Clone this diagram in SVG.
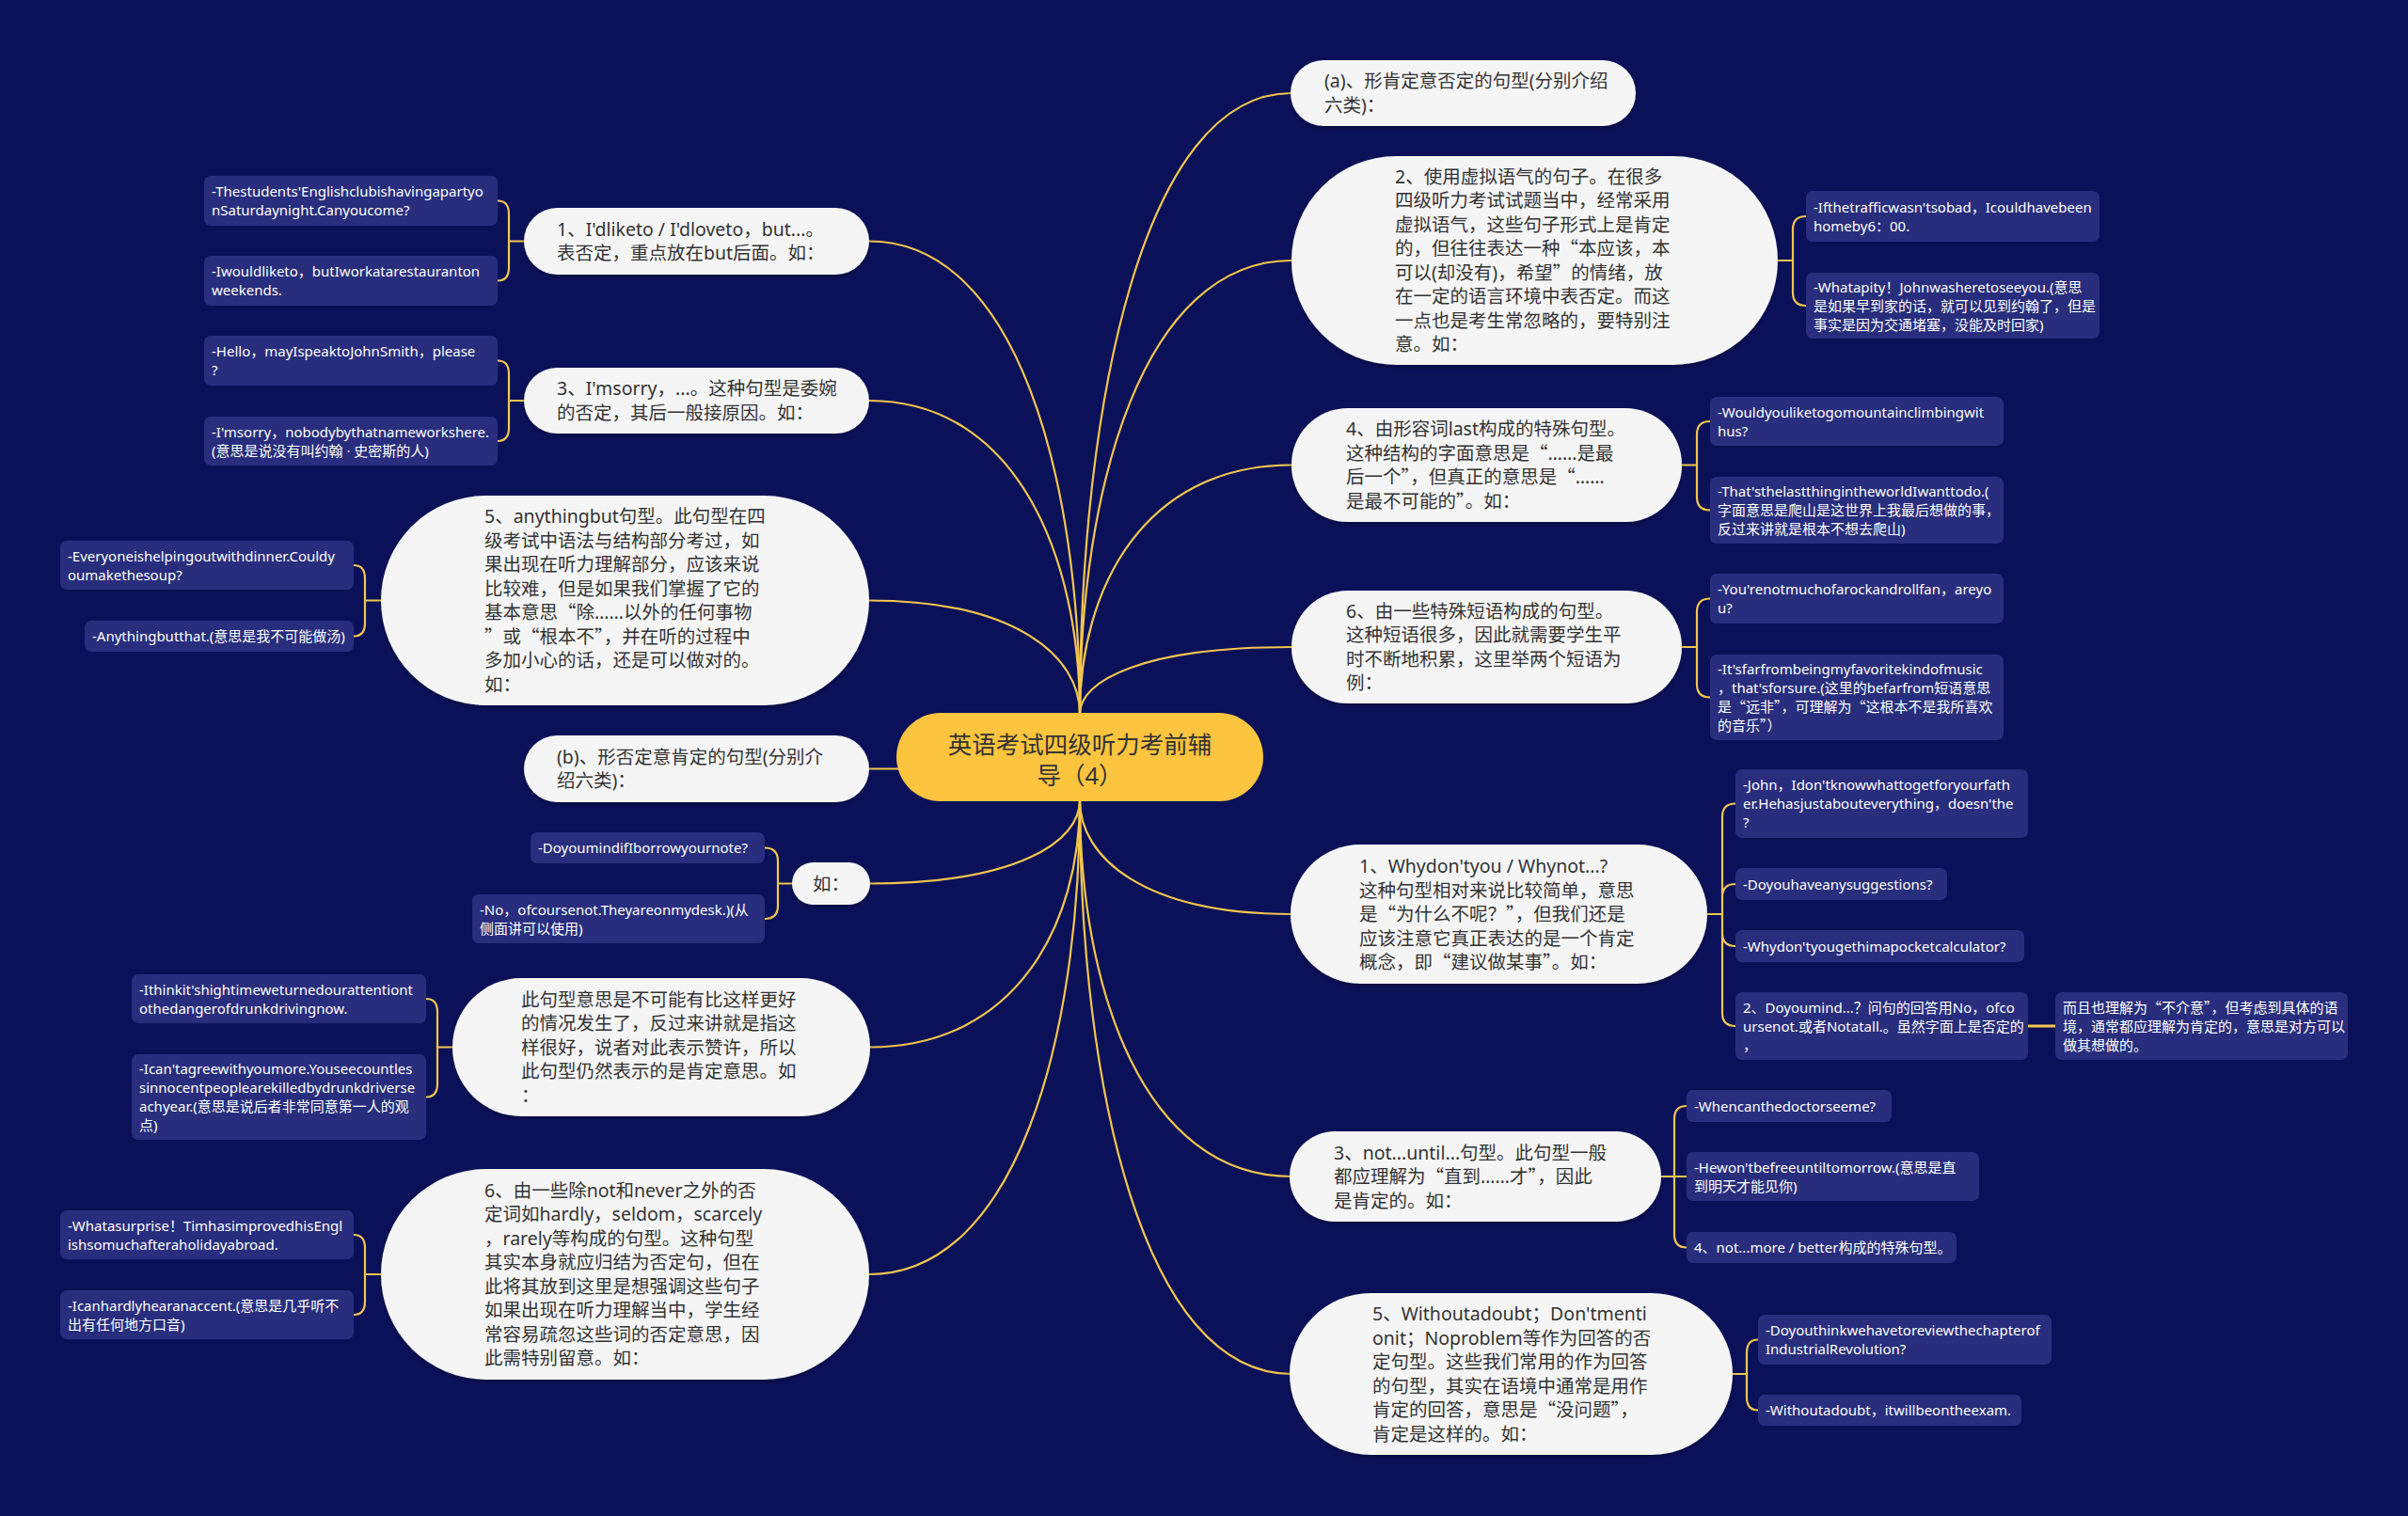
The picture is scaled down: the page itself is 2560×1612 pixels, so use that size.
<svg xmlns="http://www.w3.org/2000/svg" width="2560" height="1612" viewBox="0 0 2560 1612">
<defs>
<style>
.bg{fill:#0B1159}
.edge{fill:none;stroke:#F3C64F;stroke-width:2.2;stroke-linecap:round}
.main rect{fill:#F5F5F5}
.main text{font-family:"Noto Sans","Noto Sans CJK SC",sans-serif;font-size:19.5px;fill:#333333}
.leaf rect{fill:#282E7D}
.leaf text{font-family:"Noto Sans","Noto Sans CJK SC",sans-serif;font-size:15px;fill:#FFFFFF}
.root rect{fill:#FCC43F}
.root text{font-family:"Noto Sans","Noto Sans CJK SC",sans-serif;font-size:25.5px;fill:#333333;text-anchor:middle}
.q{font-family:"Noto Sans CJK SC",sans-serif}
</style>
<filter id="sh" x="-10%" y="-10%" width="120%" height="130%">
<feDropShadow dx="0" dy="2" stdDeviation="2" flood-color="#000000" flood-opacity="0.35"/>
</filter>
</defs>
<rect class="bg" x="0" y="0" width="2560" height="1612"/>

<g id="connectors">
<path class="edge" d="M1148,759 C1148,429 1215.5,99 1373,99"/>
<path class="edge" d="M1148,759 C1148,518 1215.5,277 1373,277"/>
<path class="edge" d="M1148,759 C1148,626.75 1215.5,494.5 1373,494.5"/>
<path class="edge" d="M1148,759 C1148,723.5 1215.5,688 1373,688"/>
<path class="edge" d="M1148,759 C1148,507.75 1080.8,256.5 924,256.5"/>
<path class="edge" d="M1148,759 C1148,592.5 1080.8,426 924,426"/>
<path class="edge" d="M1148,759 C1148,698.75 1080.8,638.5 924,638.5"/>
<path class="edge" d="M1148,851 C1148,911.5 1215.5,972 1373,972"/>
<path class="edge" d="M1148,851 C1148,1051 1215.5,1251 1373,1251"/>
<path class="edge" d="M1148,851 C1148,1156 1215.5,1461 1373,1461"/>
<path class="edge" d="M1148,851 C1148,895.25 1080.8,939.5 924,939.5"/>
<path class="edge" d="M1148,851 C1148,982.25 1080.8,1113.5 924,1113.5"/>
<path class="edge" d="M1148,851 C1148,1103 1080.8,1355 924,1355"/>
<path class="edge" d="M924,817.5 H955"/>

<path class="edge" d="M1890,277 H1906 M1906,277 V244 Q1906,230 1920,230 M1906,277 V311 Q1906,325 1920,325"/>
<path class="edge" d="M1788,494.5 H1804 M1804,494.5 V462 Q1804,448 1818,448 M1804,494.5 V528.5 Q1804,542.5 1818,542.5"/>
<path class="edge" d="M1788,688 H1804 M1804,688 V650.5 Q1804,636.5 1818,636.5 M1804,688 V727.5 Q1804,741.5 1818,741.5"/>
<path class="edge" d="M1815,972 H1831 M1831,972 V868.5 Q1831,854.5 1845,854.5 M1831,972 V954 Q1831,940 1845,940 M1831,972 V992 Q1831,1006 1845,1006 M1831,972 V1077 Q1831,1091 1845,1091"/>
<path class="edge" d="M2156,1091 H2185" style="stroke-width:3"/>
<path class="edge" d="M1766,1251 H1793 M1780,1251 V1190 Q1780,1176 1793,1176 M1780,1251 V1312.5 Q1780,1326.5 1793,1326.5"/>
<path class="edge" d="M1842,1461 H1857 M1857,1461 V1438.5 Q1857,1424.5 1869,1424.5 M1857,1461 V1485.5 Q1857,1499.5 1869,1499.5"/>

<path class="edge" d="M557,256.5 H541 M541,256.5 V227.5 Q541,213.5 529,213.5 M541,256.5 V284.5 Q541,298.5 529,298.5"/>
<path class="edge" d="M557,426 H541 M541,426 V397.5 Q541,383.5 529,383.5 M541,426 V455 Q541,469 529,469"/>
<path class="edge" d="M405,638.5 H388 M388,638.5 V615 Q388,601 376,601 M388,638.5 V662.5 Q388,676.5 376,676.5"/>
<path class="edge" d="M842,939.5 H827 M827,939.5 V915.5 Q827,901.5 813,901.5 M827,939.5 V963 Q827,977 813,977"/>
<path class="edge" d="M481,1113.5 H465 M465,1113.5 V1076 Q465,1062 453,1062 M465,1113.5 V1152.5 Q465,1166.5 453,1166.5"/>
<path class="edge" d="M405,1355 H388 M388,1355 V1327 Q388,1313 376,1313 M388,1355 V1384 Q388,1398 376,1398"/>
</g>

<g id="root" class="root">
<rect x="953" y="758" width="390" height="94" rx="47" ry="47"/>
<text><tspan x="1148" y="801">英语考试四级听力考前辅</tspan><tspan x="1148" y="834">导（4）</tspan></text>
</g>

<!-- right main nodes -->
<g id="n-a" class="main">
<rect x="1372" y="64" width="367" height="70" rx="35" ry="35" filter="url(#sh)"/>
<text><tspan x="1408" y="93.25">(a)、形肯定意否定的句型(分别介绍</tspan><tspan x="1408" y="118.75">六类)：</tspan></text>
</g>
<g id="n-r2" class="main">
<rect x="1373" y="166" width="517" height="222" rx="111" ry="111" filter="url(#sh)"/>
<text>
<tspan x="1483" y="194.75">2、使用虚拟语气的句子。在很多</tspan>
<tspan x="1483" y="220.25">四级听力考试试题当中，经常采用</tspan>
<tspan x="1483" y="245.75">虚拟语气，这些句子形式上是肯定</tspan>
<tspan x="1483" y="271.25">的，但往往表达一种<tspan class="q">“</tspan>本应该，本</tspan>
<tspan x="1483" y="296.75">可以(却没有)，希望<tspan class="q">”</tspan>的情绪，放</tspan>
<tspan x="1483" y="322.25">在一定的语言环境中表否定。而这</tspan>
<tspan x="1483" y="347.75">一点也是考生常忽略的，要特别注</tspan>
<tspan x="1483" y="373.25">意。如：</tspan>
</text>
</g>
<g id="n-r4" class="main">
<rect x="1373" y="434" width="415" height="121" rx="60" ry="60" filter="url(#sh)"/>
<text>
<tspan x="1431" y="463.25">4、由形容词last构成的特殊句型。</tspan>
<tspan x="1431" y="488.75">这种结构的字面意思是<tspan class="q">“</tspan>……是最</tspan>
<tspan x="1431" y="514.25">后一个<tspan class="q">”</tspan>，但真正的意思是<tspan class="q">“</tspan>……</tspan>
<tspan x="1431" y="539.75">是最不可能的<tspan class="q">”</tspan>。如：</tspan>
</text>
</g>
<g id="n-r6" class="main">
<rect x="1373" y="628" width="415" height="120" rx="60" ry="60" filter="url(#sh)"/>
<text>
<tspan x="1431" y="656.75">6、由一些特殊短语构成的句型。</tspan>
<tspan x="1431" y="682.25">这种短语很多，因此就需要学生平</tspan>
<tspan x="1431" y="707.75">时不断地积累，这里举两个短语为</tspan>
<tspan x="1431" y="733.25">例：</tspan>
</text>
</g>
<g id="n-r1" class="main">
<rect x="1372" y="898" width="443" height="148" rx="74" ry="74" filter="url(#sh)"/>
<text>
<tspan x="1445" y="928">1、Whydon'tyou / Whynot...?</tspan>
<tspan x="1445" y="953.5">这种句型相对来说比较简单，意思</tspan>
<tspan x="1445" y="979">是<tspan class="q">“</tspan>为什么不呢？<tspan class="q">”</tspan>，但我们还是</tspan>
<tspan x="1445" y="1004.5">应该注意它真正表达的是一个肯定</tspan>
<tspan x="1445" y="1030">概念，即<tspan class="q">“</tspan>建议做某事<tspan class="q">”</tspan>。如：</tspan>
</text>
</g>
<g id="n-r3" class="main">
<rect x="1371" y="1203" width="395" height="96" rx="48" ry="48" filter="url(#sh)"/>
<text>
<tspan x="1418" y="1232.5">3、not...until...句型。此句型一般</tspan>
<tspan x="1418" y="1258">都应理解为<tspan class="q">“</tspan>直到……才<tspan class="q">”</tspan>，因此</tspan>
<tspan x="1418" y="1283.5">是肯定的。如：</tspan>
</text>
</g>
<g id="n-r5" class="main">
<rect x="1371" y="1375" width="471" height="172" rx="86" ry="86" filter="url(#sh)"/>
<text>
<tspan x="1459" y="1404.25">5、Withoutadoubt；Don'tmenti</tspan>
<tspan x="1459" y="1429.75">onit；Noproblem等作为回答的否</tspan>
<tspan x="1459" y="1455.25">定句型。这些我们常用的作为回答</tspan>
<tspan x="1459" y="1480.75">的句型，其实在语境中通常是用作</tspan>
<tspan x="1459" y="1506.25">肯定的回答，意思是<tspan class="q">“</tspan>没问题<tspan class="q">”</tspan>，</tspan>
<tspan x="1459" y="1531.75">肯定是这样的。如：</tspan>
</text>
</g>

<!-- left main nodes -->
<g id="n-l1" class="main">
<rect x="557" y="221" width="367" height="71" rx="35.5" ry="35.5" filter="url(#sh)"/>
<text><tspan x="592" y="250.75">1、I'dliketo / I'dloveto，but...。</tspan><tspan x="592" y="276.25">表否定，重点放在but后面。如：</tspan></text>
</g>
<g id="n-l3" class="main">
<rect x="557" y="391" width="367" height="70" rx="35" ry="35" filter="url(#sh)"/>
<text><tspan x="592" y="420.25">3、I'msorry，...。这种句型是委婉</tspan><tspan x="592" y="445.75">的否定，其后一般接原因。如：</tspan></text>
</g>
<g id="n-l5" class="main">
<rect x="405" y="527" width="519" height="223" rx="111.5" ry="111.5" filter="url(#sh)"/>
<text>
<tspan x="515" y="556.25">5、anythingbut句型。此句型在四</tspan>
<tspan x="515" y="581.75">级考试中语法与结构部分考过，如</tspan>
<tspan x="515" y="607.25">果出现在听力理解部分，应该来说</tspan>
<tspan x="515" y="632.75">比较难，但是如果我们掌握了它的</tspan>
<tspan x="515" y="658.25">基本意思<tspan class="q">“</tspan>除……以外的任何事物</tspan>
<tspan x="515" y="683.75"><tspan class="q">”</tspan>或<tspan class="q">“</tspan>根本不<tspan class="q">”</tspan>，并在听的过程中</tspan>
<tspan x="515" y="709.25">多加小心的话，还是可以做对的。</tspan>
<tspan x="515" y="734.75">如：</tspan>
</text>
</g>
<g id="n-b" class="main">
<rect x="557" y="782" width="367" height="71" rx="35.5" ry="35.5" filter="url(#sh)"/>
<text><tspan x="592" y="811.75">(b)、形否定意肯定的句型(分别介</tspan><tspan x="592" y="837.25">绍六类)：</tspan></text>
</g>
<g id="n-ru" class="main">
<rect x="842" y="917" width="83" height="45" rx="22.5" ry="22.5" filter="url(#sh)"/>
<text x="883.5" y="946.5" text-anchor="middle">如：</text>
</g>
<g id="n-ci" class="main">
<rect x="481" y="1040" width="444" height="147" rx="73.5" ry="73.5" filter="url(#sh)"/>
<text>
<tspan x="554" y="1069.5">此句型意思是不可能有比这样更好</tspan>
<tspan x="554" y="1095">的情况发生了，反过来讲就是指这</tspan>
<tspan x="554" y="1120.5">样很好，说者对此表示赞许，所以</tspan>
<tspan x="554" y="1146">此句型仍然表示的是肯定意思。如</tspan>
<tspan x="554" y="1171.5">：</tspan>
</text>
</g>
<g id="n-l6" class="main">
<rect x="405" y="1243" width="519" height="224" rx="112" ry="112" filter="url(#sh)"/>
<text>
<tspan x="515" y="1272.75">6、由一些除not和never之外的否</tspan>
<tspan x="515" y="1298.25">定词如hardly，seldom，scarcely</tspan>
<tspan x="515" y="1323.75">，rarely等构成的句型。这种句型</tspan>
<tspan x="515" y="1349.25">其实本身就应归结为否定句，但在</tspan>
<tspan x="515" y="1374.75">此将其放到这里是想强调这些句子</tspan>
<tspan x="515" y="1400.25">如果出现在听力理解当中，学生经</tspan>
<tspan x="515" y="1425.75">常容易疏忽这些词的否定意思，因</tspan>
<tspan x="515" y="1451.25">此需特别留意。如：</tspan>
</text>
</g>

<!-- right leaves -->
<g id="lf-2a" class="leaf"><rect x="1920" y="203" width="312" height="54" rx="7"/><text><tspan x="1928" y="225.5">-Ifthetrafficwasn'tsobad，Icouldhavebeen</tspan><tspan x="1928" y="245.5">homeby6：00.</tspan></text></g>
<g id="lf-2b" class="leaf"><rect x="1920" y="290" width="312" height="70" rx="7"/><text><tspan x="1928" y="310.5">-Whatapity！Johnwasheretoseeyou.(意思</tspan><tspan x="1928" y="330.5">是如果早到家的话，就可以见到约翰了，但是</tspan><tspan x="1928" y="350.5">事实是因为交通堵塞，没能及时回家)</tspan></text></g>
<g id="lf-4a" class="leaf"><rect x="1818" y="422" width="312" height="52" rx="7"/><text><tspan x="1826" y="443.5">-Wouldyouliketogomountainclimbingwit</tspan><tspan x="1826" y="463.5">hus?</tspan></text></g>
<g id="lf-4b" class="leaf"><rect x="1818" y="507" width="312" height="71" rx="7"/><text><tspan x="1826" y="528">-That'sthelastthingintheworldIwanttodo.(</tspan><tspan x="1826" y="548">字面意思是爬山是这世界上我最后想做的事，</tspan><tspan x="1826" y="568">反过来讲就是根本不想去爬山)</tspan></text></g>
<g id="lf-6a" class="leaf"><rect x="1818" y="610" width="312" height="53" rx="7"/><text><tspan x="1826" y="632">-You'renotmuchofarockandrollfan，areyo</tspan><tspan x="1826" y="652">u?</tspan></text></g>
<g id="lf-6b" class="leaf"><rect x="1818" y="696" width="312" height="91" rx="7"/><text><tspan x="1826" y="717">-It'sfarfrombeingmyfavoritekindofmusic</tspan><tspan x="1826" y="737">，that'sforsure.(这里的befarfrom短语意思</tspan><tspan x="1826" y="757">是<tspan class="q">“</tspan>远非<tspan class="q">”</tspan>，可理解为<tspan class="q">“</tspan>这根本不是我所喜欢</tspan><tspan x="1826" y="777">的音乐<tspan class="q">”</tspan>）</tspan></text></g>
<g id="lf-r1a" class="leaf"><rect x="1845" y="818" width="311" height="73" rx="7"/><text><tspan x="1853" y="840">-John，Idon'tknowwhattogetforyourfath</tspan><tspan x="1853" y="860">er.Hehasjustabouteverything，doesn'the</tspan><tspan x="1853" y="880">?</tspan></text></g>
<g id="lf-r1b" class="leaf"><rect x="1845" y="923" width="225" height="34" rx="7"/><text x="1853" y="945.5">-Doyouhaveanysuggestions?</text></g>
<g id="lf-r1c" class="leaf"><rect x="1845" y="989" width="307" height="34" rx="7"/><text x="1853" y="1011.5">-Whydon'tyougethimapocketcalculator?</text></g>
<g id="lf-r1d" class="leaf"><rect x="1845" y="1055" width="311" height="72" rx="7"/><text><tspan x="1853" y="1076.5">2、Doyoumind...？问句的回答用No，ofco</tspan><tspan x="1853" y="1096.5">ursenot.或者Notatall.。虽然字面上是否定的</tspan><tspan x="1853" y="1116.5">，</tspan></text></g>
<g id="lf-r1e" class="leaf"><rect x="2185" y="1055" width="311" height="72" rx="7"/><text><tspan x="2193" y="1076.5">而且也理解为<tspan class="q">“</tspan>不介意<tspan class="q">”</tspan>，但考虑到具体的语</tspan><tspan x="2193" y="1096.5">境，通常都应理解为肯定的，意思是对方可以</tspan><tspan x="2193" y="1116.5">做其想做的。</tspan></text></g>
<g id="lf-r3a" class="leaf"><rect x="1793" y="1159" width="218" height="34" rx="7"/><text x="1801" y="1181.5">-Whencanthedoctorseeme?</text></g>
<g id="lf-r3b" class="leaf"><rect x="1793" y="1225" width="311" height="52" rx="7"/><text><tspan x="1801" y="1246.5">-Hewon'tbefreeuntiltomorrow.(意思是直</tspan><tspan x="1801" y="1266.5">到明天才能见你)</tspan></text></g>
<g id="lf-r3c" class="leaf"><rect x="1793" y="1310" width="287" height="33" rx="7"/><text x="1801" y="1332">4、not...more / better构成的特殊句型。</text></g>
<g id="lf-r5a" class="leaf"><rect x="1869" y="1398" width="312" height="53" rx="7"/><text><tspan x="1877" y="1420">-Doyouthinkwehavetoreviewthechapterof</tspan><tspan x="1877" y="1440">IndustrialRevolution?</tspan></text></g>
<g id="lf-r5b" class="leaf"><rect x="1869" y="1483" width="280" height="33" rx="7"/><text x="1877" y="1505">-Withoutadoubt，itwillbeontheexam.</text></g>

<!-- left leaves -->
<g id="lf-l1a" class="leaf"><rect x="217" y="187" width="312" height="53" rx="7"/><text><tspan x="225" y="209">-Thestudents'Englishclubishavingapartyo</tspan><tspan x="225" y="229">nSaturdaynight.Canyoucome?</tspan></text></g>
<g id="lf-l1b" class="leaf"><rect x="217" y="272" width="312" height="53" rx="7"/><text><tspan x="225" y="294">-Iwouldliketo，butIworkatarestauranton</tspan><tspan x="225" y="314">weekends.</tspan></text></g>
<g id="lf-l3a" class="leaf"><rect x="217" y="357" width="312" height="53" rx="7"/><text><tspan x="225" y="379">-Hello，mayIspeaktoJohnSmith，please</tspan><tspan x="225" y="399">?</tspan></text></g>
<g id="lf-l3b" class="leaf"><rect x="217" y="443" width="312" height="52" rx="7"/><text><tspan x="225" y="464.5">-I'msorry，nobodybythatnameworkshere.</tspan><tspan x="225" y="484.5">(意思是说没有叫约翰 · 史密斯的人)</tspan></text></g>
<g id="lf-l5a" class="leaf"><rect x="64" y="575" width="312" height="52" rx="7"/><text><tspan x="72" y="596.5">-Everyoneishelpingoutwithdinner.Couldy</tspan><tspan x="72" y="616.5">oumakethesoup?</tspan></text></g>
<g id="lf-l5b" class="leaf"><rect x="90" y="660" width="286" height="33" rx="7"/><text x="98" y="682">-Anythingbutthat.(意思是我不可能做汤)</text></g>
<g id="lf-lr1" class="leaf"><rect x="564" y="885" width="249" height="33" rx="7"/><text x="572" y="907">-DoyoumindifIborrowyournote?</text></g>
<g id="lf-lr2" class="leaf"><rect x="502" y="951" width="311" height="52" rx="7"/><text><tspan x="510" y="972.5">-No，ofcoursenot.Theyareonmydesk.)(从</tspan><tspan x="510" y="992.5">侧面讲可以使用)</tspan></text></g>
<g id="lf-lt1" class="leaf"><rect x="140" y="1036" width="313" height="52" rx="7"/><text><tspan x="148" y="1057.5">-Ithinkit'shightimeweturnedourattentiont</tspan><tspan x="148" y="1077.5">othedangerofdrunkdrivingnow.</tspan></text></g>
<g id="lf-lt2" class="leaf"><rect x="140" y="1121" width="313" height="91" rx="7"/><text><tspan x="148" y="1142">-Ican'tagreewithyoumore.Youseecountles</tspan><tspan x="148" y="1162">sinnocentpeoplearekilledbydrunkdriverse</tspan><tspan x="148" y="1182">achyear.(意思是说后者非常同意第一人的观</tspan><tspan x="148" y="1202">点)</tspan></text></g>
<g id="lf-l6a" class="leaf"><rect x="64" y="1287" width="312" height="52" rx="7"/><text><tspan x="72" y="1308.5">-Whatasurprise！TimhasimprovedhisEngl</tspan><tspan x="72" y="1328.5">ishsomuchafteraholidayabroad.</tspan></text></g>
<g id="lf-l6b" class="leaf"><rect x="64" y="1372" width="312" height="52" rx="7"/><text><tspan x="72" y="1393.5">-Icanhardlyhearanaccent.(意思是几乎听不</tspan><tspan x="72" y="1413.5">出有任何地方口音)</tspan></text></g>
</svg>
